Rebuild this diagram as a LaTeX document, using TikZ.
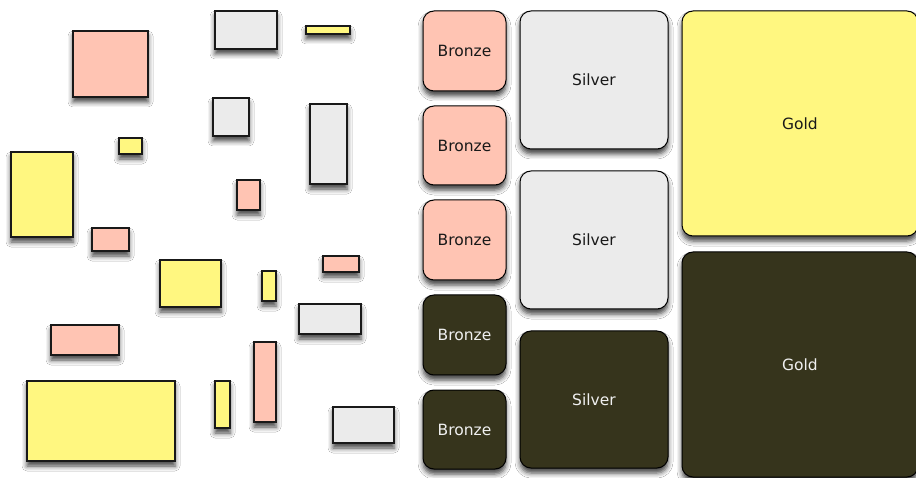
\documentclass[tikz,border=0pt]{standalone}
\usepackage{fontspec}
\setmainfont{DejaVu Sans}
\usetikzlibrary{shadows.blur}
\definecolor{bronzec}{HTML}{FFC4B3}
\definecolor{silverc}{HTML}{EBEBEB}
\definecolor{goldc}{HTML}{FFF780}
\definecolor{darkc}{HTML}{36341C}
\definecolor{lighttext}{HTML}{F0F0F0}
\tikzset{
  shad/.style={blur shadow={shadow xshift=0pt, shadow yshift=-5pt, shadow blur radius=5pt, shadow opacity=75}},
  plainbox/.style={shad, draw=black!90, line width=1.2pt},
  medal/.style={shad, draw=black, line width=1pt, rounded corners=11pt, inner sep=0pt,
    font=\fontsize{15.5}{18}\selectfont, text=black!90},
  bronzebox/.style={medal, fill=bronzec, minimum width=83pt, minimum height=80pt},
  silverbox/.style={medal, fill=silverc, minimum width=148pt, minimum height=138pt},
  goldbox/.style={medal, fill=goldc, minimum width=236pt, minimum height=225pt},
  darkfill/.style={fill=darkc, text=lighttext},
}
\begin{document}
\begin{tikzpicture}[x=1pt, y=-1pt]
\useasboundingbox (0,0) rectangle (916,478);
\clip (0,0) rectangle (916,478);
\fill[white] (0,0) rectangle (916,478);
% scattered rectangles
\path[plainbox, fill=bronzec] (73,31) rectangle (148,97);
\path[plainbox, fill=silverc] (215,11) rectangle (277,49);
\path[plainbox, fill=goldc] (306,26) rectangle (350,34);
\path[plainbox, fill=silverc] (213,98) rectangle (249,136);
\path[plainbox, fill=silverc] (310,104) rectangle (347,184);
\path[plainbox, fill=goldc] (119,138) rectangle (142,154);
\path[plainbox, fill=goldc] (11,152) rectangle (73,237);
\path[plainbox, fill=bronzec] (237,180) rectangle (260,210);
\path[plainbox, fill=bronzec] (92,228) rectangle (129,251);
\path[plainbox, fill=goldc] (160,260) rectangle (221,307);
\path[plainbox, fill=goldc] (262,271) rectangle (276,301);
\path[plainbox, fill=bronzec] (323,256) rectangle (359,272);
\path[plainbox, fill=silverc] (299,304) rectangle (361,334);
\path[plainbox, fill=bronzec] (51,325) rectangle (119,355);
\path[plainbox, fill=bronzec] (254,342) rectangle (276,422);
\path[plainbox, fill=goldc] (27,381) rectangle (175,461);
\path[plainbox, fill=goldc] (215,381) rectangle (230,428);
\path[plainbox, fill=silverc] (333,407) rectangle (394,443);
% medal boxes
\node[bronzebox] (b1) at (464.5,51) {Bronze};
\node[bronzebox, minimum height=79pt] (b2) at (464.5,145.5) {Bronze};
\node[bronzebox] (b3) at (464.5,240) {Bronze};
\node[bronzebox, darkfill] (b4) at (464.5,335) {Bronze};
\node[bronzebox, darkfill, minimum height=79pt] (b5) at (464.5,429.5) {Bronze};
\node[silverbox] (s1) at (594,80) {Silver};
\node[silverbox] (s2) at (594,240) {Silver};
\node[silverbox, darkfill, minimum height=137pt] (s3) at (594,399.5) {Silver};
\node[goldbox] (g1) at (800,123.5) {Gold};
\node[goldbox, darkfill] (g2) at (800,364.5) {Gold};
\end{tikzpicture}
\end{document}
